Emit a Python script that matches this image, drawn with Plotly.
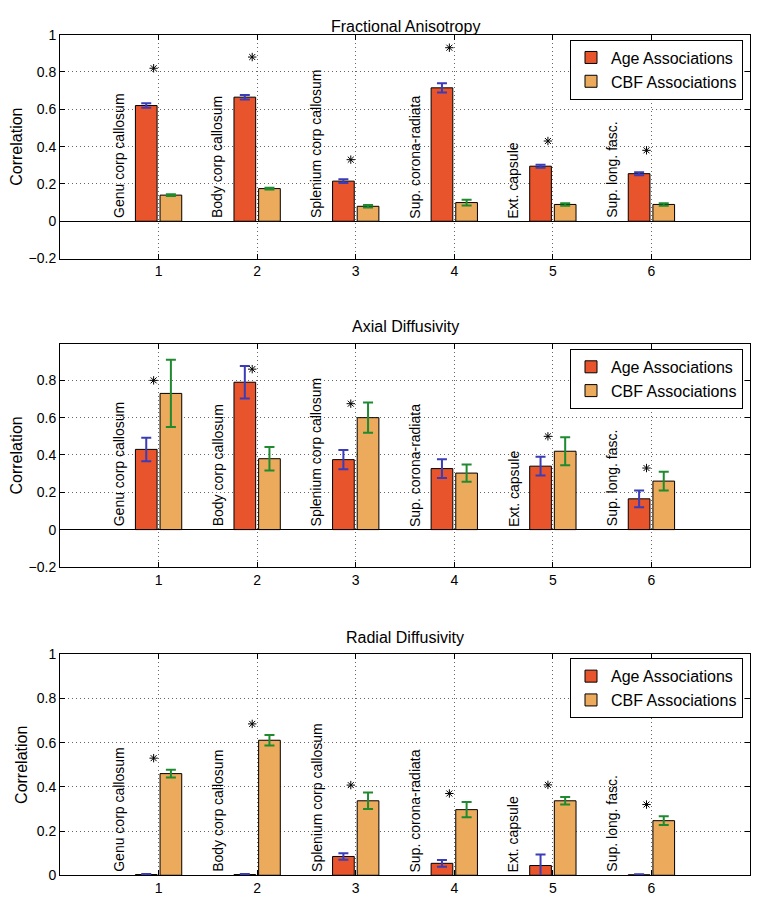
import plotly.graph_objects as go

REGIONS = [1, 2, 3, 4, 5, 6]
REGION_NAMES = [
    "Genu corp callosum",
    "Body corp callosum",
    "Splenium corp callosum",
    "Sup. corona-radiata",
    "Ext. capsule",
    "Sup. long. fasc.",
]
PANEL_TITLES = ["Fractional Anisotropy", "Axial Diffusivity", "Radial Diffusivity"]

# Fractional anisotropy
FA_AGE = [0.62, 0.665, 0.215, 0.715, 0.295, 0.255]
FA_AGE_ERR = [0.012, 0.012, 0.010, 0.025, 0.008, 0.008]
FA_CBF = [0.14, 0.175, 0.08, 0.10, 0.09, 0.09]
FA_CBF_ERR = [0.005, 0.005, 0.007, 0.015, 0.007, 0.007]
FA_STARS = [0.82, 0.88, 0.33, 0.93, 0.43, 0.38]

# Axial diffusivity
AD_AGE = [0.43, 0.79, 0.375, 0.327, 0.34, 0.165]
AD_AGE_ERR = [0.063, 0.087, 0.052, 0.05, 0.05, 0.045]
AD_CBF = [0.73, 0.38, 0.60, 0.303, 0.42, 0.26]
AD_CBF_ERR = [0.18, 0.063, 0.081, 0.046, 0.075, 0.05]
AD_STARS = [0.80, 0.86, 0.675, None, 0.50, 0.33]

# Radial diffusivity
RD_AGE = [0.003, 0.003, 0.085, 0.054, 0.044, 0.002]
RD_AGE_ERR = [0.003, 0.003, 0.015, 0.015, 0.05, 0.002]
RD_CBF = [0.46, 0.611, 0.337, 0.297, 0.337, 0.247]
RD_CBF_ERR = [0.018, 0.024, 0.037, 0.035, 0.017, 0.02]
RD_STARS = [0.53, 0.685, 0.408, 0.37, 0.409, 0.32]

PANELS = [
    (FA_AGE, FA_AGE_ERR, FA_CBF, FA_CBF_ERR, FA_STARS),
    (AD_AGE, AD_AGE_ERR, AD_CBF, AD_CBF_ERR, AD_STARS),
    (RD_AGE, RD_AGE_ERR, RD_CBF, RD_CBF_ERR, RD_STARS),
]

Y_RANGES = [[-0.2, 1.0], [-0.2, 0.995], [0.0, 1.0]]
Y_TICKS = [
    [-0.2, 0, 0.2, 0.4, 0.6, 0.8, 1],
    [-0.2, 0, 0.2, 0.4, 0.6, 0.8],
    [0, 0.2, 0.4, 0.6, 0.8, 1],
]

# the page body keeps its default 8px margin, so the figure is laid out
# in page pixels minus 8 and sized to fit inside the window
_W, _H = 743, 889
_X_DOMAIN = [52 / _W, 742 / _W]
_Y_DOMAINS = [
    [1 - 247 / _H, 1 - 19 / _H],
    [1 - 561 / _H, 1 - 334 / _H],
    [1 - 875 / _H, 1 - 650 / _H],
]
_LEGEND_TOPS = [1 - 24 / _H, 1 - 339 / _H, 1 - 654 / _H]

_RED = "#e8542b"
_ORANGE = "#ebaa5c"
_BLUE = "#3b3db8"
_GREEN = "#1f8a2f"
_FONT = "Liberation Sans, Arial, sans-serif"

fig = go.Figure()
annotations = []

for p, (age, age_err, cbf, cbf_err, stars) in enumerate(PANELS):
    n = "" if p == 0 else str(p + 1)
    xa, ya = "x" + n, "y" + n
    legend_name = "legend" + n
    fig.add_trace(
        go.Bar(
            x=REGIONS, y=age, name="Age Associations",
            marker={"color": _RED, "line": {"color": "black", "width": 1}},
            error_y={"type": "data", "array": age_err, "color": _BLUE,
                     "thickness": 2, "width": 5},
            xaxis=xa, yaxis=ya, legend=legend_name,
        )
    )
    fig.add_trace(
        go.Bar(
            x=REGIONS, y=cbf, name="CBF Associations",
            marker={"color": _ORANGE, "line": {"color": "black", "width": 1}},
            error_y={"type": "data", "array": cbf_err, "color": _GREEN,
                     "thickness": 2, "width": 5},
            xaxis=xa, yaxis=ya, legend=legend_name,
        )
    )
    fig.add_trace(
        go.Scatter(
            x=[r - 0.05 for r in REGIONS], y=stars, mode="markers",
            marker={"symbol": "asterisk-open", "size": 7, "color": "black",
                    "line": {"color": "black", "width": 1}},
            showlegend=False, xaxis=xa, yaxis=ya, hoverinfo="skip",
        )
    )
    for r, label in zip(REGIONS, REGION_NAMES):
        annotations.append(dict(
            x=r - 0.4, y=0.005, xref=xa, yref=ya, text=label, textangle=-90,
            showarrow=False, xanchor="center", yanchor="bottom",
            font={"size": 14, "color": "black", "family": _FONT},
        ))
    top = _Y_DOMAINS[p][1]
    annotations.append(dict(
        x=sum(_X_DOMAIN) / 2, y=min(top + 28 / _H, 1.0), xref="paper", yref="paper",
        text=PANEL_TITLES[p], showarrow=False,
        xanchor="center", yanchor="top",
        font={"size": 16, "color": "black", "family": _FONT},
    ))

    axis_common = dict(
        showline=True, linecolor="black", linewidth=1, mirror="ticks",
        ticks="inside", ticklen=5, tickcolor="black",
        showgrid=True, gridcolor="#666666", griddash="1px,3px", gridwidth=1,
        tickfont={"size": 14, "color": "black", "family": _FONT},
    )
    fig.update_layout({
        "xaxis" + n: dict(
            domain=_X_DOMAIN, range=[0, 7], tickvals=REGIONS, anchor=ya,
            zeroline=False, **axis_common,
        ),
        "yaxis" + n: dict(
            domain=_Y_DOMAINS[p], range=Y_RANGES[p], tickvals=Y_TICKS[p],
            anchor=xa, zeroline=True, zerolinecolor="black", zerolinewidth=1,
            title={"text": "Correlation", "standoff": 5,
                   "font": {"size": 16, "color": "black", "family": _FONT}},
            **axis_common,
        ),
        legend_name: dict(
            x=562 / _W, y=_LEGEND_TOPS[p], xanchor="left", yanchor="top",
            bgcolor="white", bordercolor="black", borderwidth=1,
            font={"size": 16, "color": "black", "family": _FONT},
            itemwidth=30, tracegroupgap=0,
        ),
    })

fig.update_layout(
    width=_W, height=_H,
    margin={"l": 0, "r": 0, "t": 0, "b": 0},
    paper_bgcolor="white", plot_bgcolor="white",
    barmode="group", bargap=0.5, bargroupgap=0.12,
    font={"family": _FONT, "color": "black"},
    annotations=annotations,
)

fig.write_html("out.html")
